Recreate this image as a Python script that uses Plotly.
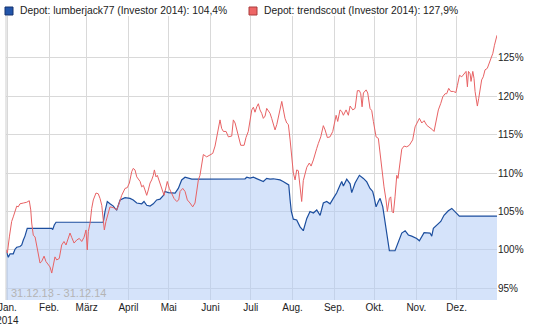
import pandas as pd
import plotly.graph_objects as go

# --- data (day offsets from 31.12.2013, value in %) ---
blue_days = [0, 1.7, 3.0, 5.4, 6.7, 8.0, 10.4, 11.7, 12.9, 14.1, 15.8, 34.0, 34.7, 35.9, 37.2,
             72.3, 73.6, 75.3, 77.3, 79.8, 81.0, 82.3, 84.8, 88.5, 92.2, 94.6, 97.2, 100.9,
             102.6, 104.6, 107.1, 109.5, 112.0, 114.5, 117.0, 118.2, 120.7, 123.2, 125.7,
             128.1, 130.6, 133.1, 135.5, 138.1, 144.2, 177.7, 179.0, 181.4, 183.9, 186.4,
             188.8, 191.3, 193.8, 196.3, 198.7, 203.7, 206.0, 208.2, 210.2, 211.2, 212.1,
             213.6, 216.1, 218.6, 221.0, 223.6, 226.0, 228.5, 231.0, 233.5, 235.9, 238.4,
             240.9, 243.3, 245.8, 248.3, 249.6, 250.8, 253.3, 255.8, 257.0, 259.5, 262.7,
             265.7, 268.2, 270.6, 272.6, 273.6, 275.1, 276.8, 278.1, 280.1, 281.8, 283.5,
             285.0, 289.2, 291.7, 294.2, 296.7, 299.1, 301.6, 305.3, 307.3, 309.1, 310.8,
             315.2, 316.5, 317.7, 320.2, 323.2, 325.6, 328.8, 331.4, 333.8, 337.0, 365]
blue_vals = [100.0, 99.05, 99.5, 99.5, 100.1, 100.35, 100.45, 100.65, 101.3, 101.8, 102.8, 102.8,
             102.65, 103.25, 103.6, 103.6, 105.0, 106.3, 106.0, 105.7, 105.4, 105.2, 106.5,
             106.8, 106.7, 106.5, 106.1, 106.0, 106.3, 105.8, 105.7, 106.0, 106.5, 106.6,
             107.1, 107.6, 107.45, 107.4, 107.4, 108.0, 109.1, 109.45, 109.3, 109.2, 109.2,
             109.25, 109.45, 109.35, 109.45, 109.25, 109.1, 108.9, 109.3, 109.2, 109.25,
             109.1, 108.9, 108.6, 108.45, 106.5, 105.0, 104.0, 103.9, 103.0, 102.5, 104.1,
             105.0, 104.8, 105.2, 104.5, 106.1, 106.3, 106.0, 106.7, 107.4, 108.4, 108.9,
             108.3, 109.2, 108.6, 107.45, 108.7, 109.7, 109.3, 108.85, 108.0, 107.6, 106.9,
             105.6, 106.3, 106.7, 105.6, 103.5, 101.7, 99.9, 99.9, 100.95, 102.2, 102.5,
             101.95, 101.8, 101.5, 101.2, 101.8, 102.25, 102.2, 101.8, 102.8, 103.25, 103.7,
             104.5, 105.1, 105.4, 105.0, 104.4, 104.4]

red_days = [0, 1.0, 2.5, 4.2, 5.4, 6.7, 8.0, 9.1, 10.4, 12.9, 15.4, 17.3, 18.4, 19.1, 20.3, 21.6,
            22.8, 24.0, 25.3, 26.5, 28.3, 29.7, 31.4, 32.7, 34.0, 35.2, 36.4, 37.7, 39.6, 41.4,
            43.1, 44.6, 46.3, 47.6, 48.8, 50.6, 52.6, 54.5, 56.3, 58.0, 59.5, 60.4, 61.2, 62.5,
            63.7, 64.9, 66.9, 68.6, 69.9, 71.2, 72.3, 73.1, 74.3, 75.6, 76.8, 77.3, 79.8, 82.3,
            84.2, 86.0, 88.5, 90.2, 91.7, 93.5, 94.6, 95.9, 97.2, 99.7, 100.9, 102.1, 103.3,
            104.6, 105.8, 107.1, 108.3, 109.5, 110.3, 111.5, 112.5, 114.0, 115.8, 117.5, 119.0,
            119.9, 121.4, 123.2, 124.9, 126.9, 128.4, 129.4, 131.4, 133.1, 134.8, 136.8, 138.8,
            140.5, 141.8, 143.0, 144.2, 145.5, 146.7, 149.2, 151.7, 153.7, 155.4, 156.6, 157.8,
            159.1, 160.3, 161.6, 163.6, 165.3, 167.8, 169.0, 170.3, 171.5, 172.7, 174.5, 177.0,
            178.4, 180.1, 181.4, 182.7, 183.9, 185.1, 186.4, 187.6, 188.8, 190.1, 191.3, 192.6,
            193.8, 195.0, 196.3, 197.5, 198.7, 200.0, 201.3, 202.5, 203.7, 205.0, 206.2, 207.4,
            208.7, 209.9, 211.2, 212.4, 213.6, 214.9, 216.1, 217.3, 218.6, 219.8, 221.0, 222.3,
            223.6, 225.5, 226.8, 228.5, 229.7, 231.0, 232.2, 234.0, 235.9, 237.2, 238.9, 240.9,
            242.9, 243.9, 245.4, 246.6, 248.3, 249.6, 250.8, 252.8, 254.5, 255.8, 257.8, 259.5,
            261.2, 262.7, 263.7, 264.7, 265.7, 267.7, 268.9, 270.6, 271.9, 273.1, 275.1, 276.8,
            278.1, 279.3, 280.1, 281.0, 282.5, 283.5, 285.0, 286.0, 287.0, 288.0, 289.2, 290.5,
            291.4, 292.9, 294.2, 295.9, 297.9, 299.8, 302.3, 304.1, 305.8, 307.3, 309.1, 310.8,
            312.8, 315.2, 317.2, 318.2, 319.7, 321.4, 323.2, 324.7, 326.4, 327.6, 329.1, 330.6,
            332.6, 334.4, 335.6, 337.1, 338.8, 340.6, 342.0, 343.0, 343.8, 345.0, 345.7, 347.0,
            347.9, 348.7, 349.4, 350.4, 351.4, 352.4, 353.6, 354.8, 356.1, 357.8, 359.3, 360.4,
            361.9, 363.1, 365]
red_vals = [100.0, 99.6, 101.7, 103.7, 104.3, 105.0, 105.7, 105.6, 106.0, 106.1, 106.2, 106.4,
            105.2, 103.5, 101.9, 101.7, 100.4, 99.6, 98.3, 98.5, 99.2, 98.5, 98.05, 97.8, 97.0,
            98.05, 99.1, 98.7, 98.9, 100.65, 101.1, 100.65, 101.5, 102.2, 101.65, 100.9, 101.3,
            101.5, 101.1, 101.65, 102.6, 100.0, 102.4, 103.5, 105.4, 106.5, 107.4, 107.3, 106.7,
            105.8, 103.9, 102.6, 103.7, 104.5, 105.2, 105.6, 105.5, 105.2, 106.1, 107.1, 108.0,
            108.1, 108.7, 110.2, 110.6, 110.4, 109.5, 108.9, 108.2, 108.4, 107.8, 107.1, 107.8,
            108.7, 109.1, 109.7, 110.4, 109.5, 109.7, 108.9, 107.8, 107.1, 108.2, 108.9, 108.0,
            107.4, 106.7, 106.3, 106.5, 107.6, 108.0, 107.6, 106.5, 106.1, 105.6, 106.1, 107.4,
            109.1, 109.7, 111.0, 112.4, 112.1, 112.3, 112.55, 113.5, 114.5, 115.6, 116.9, 115.8,
            115.4, 115.4, 114.7, 114.8, 116.9, 116.5, 115.6, 114.7, 113.6, 113.6, 114.6, 115.4,
            116.9, 118.2, 118.55, 117.9, 118.6, 119.0, 118.2, 117.75, 117.1, 117.4, 118.4, 118.0,
            117.75, 117.1, 116.5, 115.6, 116.3, 117.3, 118.2, 119.3, 118.2, 117.1, 116.5, 116.3,
            114.3, 111.9, 110.0, 109.1, 110.4, 110.3, 108.4, 106.3, 109.0, 109.8, 110.75, 111.3,
            110.9, 111.7, 112.3, 113.2, 113.85, 114.7, 116.15, 115.6, 114.6, 114.7, 115.4, 116.2,
            117.5, 116.7, 118.2, 118.0, 117.5, 118.2, 117.5, 118.7, 118.2, 118.4, 120.7, 120.7,
            120.3, 118.6, 120.4, 120.8, 120.4, 118.4, 118.1, 116.7, 114.7, 114.5, 112.6, 110.2,
            109.3, 108.2, 106.5, 105.0, 106.7, 106.9, 105.0, 104.8, 106.9, 109.7, 109.3, 111.3,
            113.1, 113.5, 113.4, 113.6, 114.3, 116.0, 116.7, 117.1, 116.5, 116.8, 116.2, 115.9,
            115.6, 115.4, 116.9, 118.2, 119.05, 119.9, 120.3, 120.3, 121.0, 120.6, 120.6, 120.45,
            121.4, 122.7, 122.5, 122.9, 123.2, 121.2, 123.2, 122.9, 121.9, 123.2, 122.3, 120.6,
            119.5, 118.7, 119.7, 121.0, 122.1, 122.5, 123.4, 123.6, 124.25, 124.7, 125.55, 126.6,
            127.9]

start_date = "2013-12-31"
end_date = "2014-12-31"
month_ticks = ["2014-01-01", "2014-02-01", "2014-03-01", "2014-04-01", "2014-05-01", "2014-06-01",
               "2014-07-01", "2014-08-01", "2014-09-01", "2014-10-01", "2014-11-01", "2014-12-01"]
month_labels = ["Jan.<br>2014", "Feb.", "März", "April", "Mai", "Juni", "Juli", "Aug.", "Sep.",
                "Okt.", "Nov.", "Dez."]
y_ticks = [95, 100, 105, 110, 115, 120, 125]
blue_name = "Depot: lumberjack77 (Investor 2014)"
red_name = "Depot: trendscout (Investor 2014)"
period_text = "31.12.13 - 31.12.14"

t0 = pd.Timestamp(start_date)
blue_x = t0 + pd.to_timedelta(blue_days, unit="D")
red_x = t0 + pd.to_timedelta(red_days, unit="D")

BLUE = "rgb(28,78,158)"
RED = "rgb(232,98,100)"
FONT = "Liberation Sans, Arial, sans-serif"

fig = go.Figure()
fig.add_trace(go.Scatter(x=blue_x, y=blue_vals, mode="lines", fill="tozeroy",
                         fillcolor="rgba(178,204,245,0.55)",
                         line=dict(color=BLUE, width=1.2), hoverinfo="skip"))
fig.add_trace(go.Scatter(x=red_x, y=red_vals, mode="lines",
                         line=dict(color=RED, width=1), hoverinfo="skip"))

def fmt(v):
    return f"{v:.1f}%".replace(".", ",")

W, H = 534, 325
L, R, T, B = 6, 37, 16, 25
pw, ph = W - L - R, H - T - B

def px_x(x):
    return (x - L) / pw

def px_y(y):
    return (H - B - y) / ph

# legend squares + texts
for x0, col, edge, text in [(5, "rgb(34,85,170)", "rgb(20,50,110)", f"{blue_name}: {fmt(blue_vals[-1])}"),
                            (249, "rgb(238,102,102)", "rgb(170,60,60)", f"{red_name}: {fmt(red_vals[-1])}")]:
    fig.add_shape(type="rect", xref="paper", yref="paper",
                  x0=px_x(x0), x1=px_x(x0 + 8), y0=px_y(15), y1=px_y(7),
                  fillcolor=col, line=dict(color=edge, width=1))
    fig.add_annotation(xref="paper", yref="paper", x=px_x(x0 + 13), y=px_y(11),
                       xanchor="left", yanchor="middle", showarrow=False, text=text,
                       font=dict(family=FONT, size=10.3, color="#222"))

fig.add_annotation(xref="paper", yref="paper", x=px_x(9), y=px_y(293),
                   xanchor="left", yanchor="middle", showarrow=False, text=period_text,
                   font=dict(family=FONT, size=11, color="#b4b4b4"))

# left frame line
fig.add_shape(type="line", xref="paper", yref="paper", x0=0, x1=0, y0=0, y1=1,
              line=dict(color="#cfcfcf", width=1))

fig.update_layout(
    width=W, height=H, margin=dict(l=L, r=R, t=T, b=B),
    paper_bgcolor="white", plot_bgcolor="white", showlegend=False,
    font=dict(family=FONT, size=10, color="#222"),
    xaxis=dict(type="date", range=[start_date, end_date], tickvals=month_ticks,
               ticktext=month_labels, showgrid=True, gridcolor="#d9d9d9", gridwidth=1,
               zeroline=False, showline=False, ticks="", automargin=False,
               ticklabeloverflow="allow",
               tickfont=dict(size=10, color="#222")),
    yaxis=dict(range=[93.5, 130.4], side="right", tickvals=y_ticks,
               ticktext=[f"{v}%" for v in y_ticks], showgrid=True, gridcolor="#d9d9d9",
               gridwidth=1, zeroline=False, showline=False, ticks="", automargin=False,
               ticklabeloverflow="allow",
               tickfont=dict(size=10, color="#222")),
)

fig.write_html("out.html")
